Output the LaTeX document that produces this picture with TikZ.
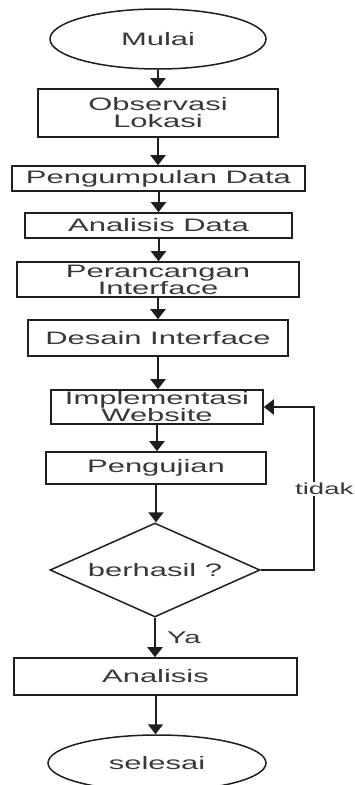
\documentclass[tikz,border=0pt]{standalone}
\usepackage{fontspec}
\setmainfont{Liberation Sans}[FakeStretch=1.72]
\usetikzlibrary{shapes.geometric,arrows.meta}
\definecolor{txt}{HTML}{383838}
\definecolor{ln}{HTML}{1E1E1E}
\begin{document}
\begin{tikzpicture}[x=1pt,y=-1pt,
  every node/.style={text=txt,font=\fontsize{18}{17}\selectfont,inner sep=0pt},
  procbox/.style={draw=ln,line width=1.6pt,rectangle,align=center},
  termbox/.style={draw=ln,line width=1.5pt,ellipse},
  decbox/.style={draw=ln,line width=1.5pt,diamond},
  flow/.style={draw=ln,line width=2pt,-{Triangle[width=15pt,length=10pt]}},
  lbl/.style={font=\fontsize{16}{16}\selectfont,fill=white,inner sep=1pt}]
\useasboundingbox (0,0) rectangle (355,785);
\fill[white] (0,0) rectangle (355,785);

\node[termbox,minimum width=216pt,minimum height=60pt] (mulai) at (158,39) {Mulai};
\node[procbox,minimum width=240pt,minimum height=48pt] (obs) at (158,113) {Observasi\\Lokasi};
\node[procbox,minimum width=293pt,minimum height=25pt] (kumpul) at (158.5,178.5) {Pengumpulan Data};
\node[procbox,minimum width=267pt,minimum height=25pt] (anadata) at (158.5,225.5) {Analisis Data};
\node[procbox,minimum width=282pt,minimum height=35pt] (rancang) at (158,279.5) {Perancangan\\Interface};
\node[procbox,minimum width=260pt,minimum height=36pt] (desain) at (158,338) {Desain Interface};
\node[procbox,minimum width=212pt,minimum height=34pt] (impl) at (157,407) {Implementasi\\Website};
\node[procbox,minimum width=220pt,minimum height=32pt] (uji) at (156,468) {Pengujian};
\node[decbox,minimum width=210pt,minimum height=94pt,label={center:berhasil ?}] (cek) at (155,570) {};
\node[procbox,minimum width=283pt,minimum height=37pt] (analisis) at (155.5,676.5) {Analisis};
\node[termbox,minimum width=218pt,minimum height=56pt] (selesai) at (157,763) {selesai};

\coordinate (loopR) at (314,570);
\coordinate (loopT) at (314,407);

\draw[flow] (mulai.south) -- (mulai.south |- obs.north);
\draw[flow] (obs.south) -- (obs.south |- kumpul.north);
\draw[flow] (kumpul.south) -- (kumpul.south |- anadata.north);
\draw[flow] (anadata.south) -- (anadata.south |- rancang.north);
\draw[flow] (rancang.south) -- (rancang.south |- desain.north);
\draw[flow] (desain.south) -- (desain.south |- impl.north);
\draw[flow] (impl.south) -- (impl.south |- uji.north);
\draw[flow] (uji.south) -- (uji.south |- cek.north);
\draw[flow] (cek.south) -- node[lbl,font=\fontsize{17}{17}\selectfont,anchor=west,xshift=10pt,fill=none] {Ya} (cek.south |- analisis.north);
\draw[flow] (analisis.south) -- (analisis.south |- selesai.north);
\draw[flow] (cek.east) -- (loopR) -- (loopT) -- (impl.east);
\node[lbl,anchor=west] (tidak) at (294,489) {tidak};
\end{tikzpicture}
\end{document}
